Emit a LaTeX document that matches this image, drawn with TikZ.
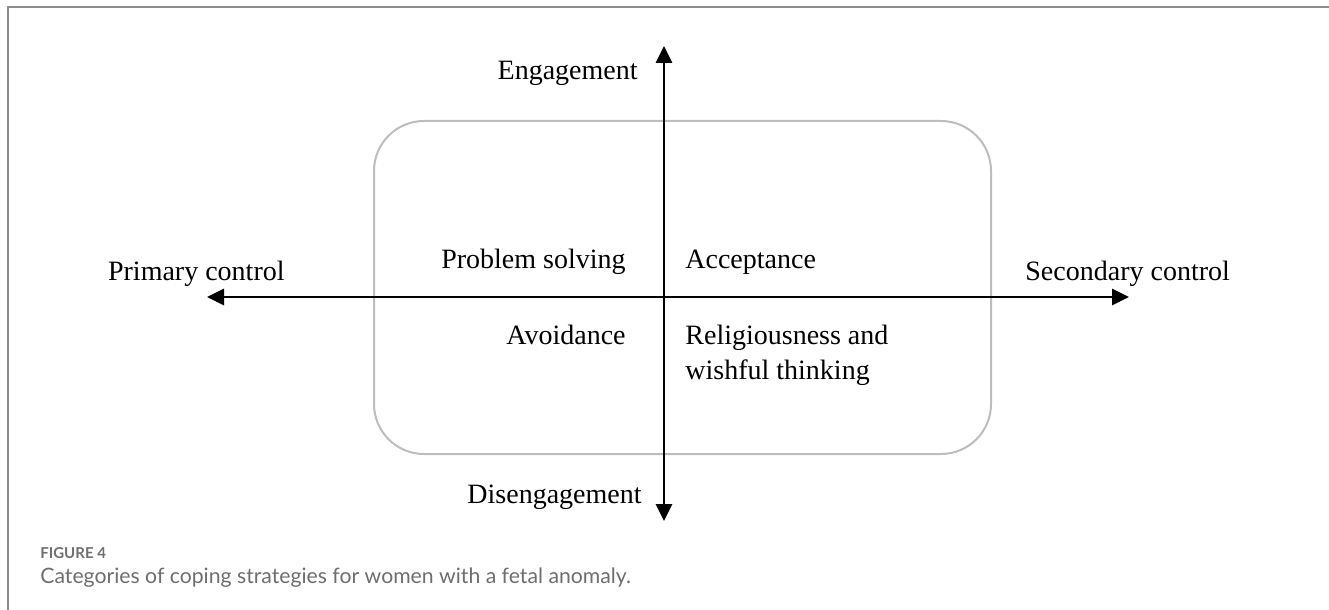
\documentclass[tikz,border=0pt]{standalone}
\usepackage{fontspec}
\setmainfont{Liberation Serif}
\newfontfamily\capfont{Lato}
\usetikzlibrary{arrows.meta}
\definecolor{framegray}{HTML}{8C8C8C}
\definecolor{boxgray}{HTML}{BDBDBD}
\definecolor{capgray}{HTML}{6E6E6E}
\begin{document}
\begin{tikzpicture}[x=0.5pt,y=-0.5pt,
  lbl/.style={font=\fontsize{14}{16}\selectfont, inner sep=0pt},
  axis/.style={line width=1.35pt, {Triangle[length=8.5pt,width=8pt]}-{Triangle[length=8.5pt,width=8pt]}},
  capstyle/.style={inner sep=0pt, text=capgray, anchor=base west}]
\useasboundingbox (0,0) rectangle (1329,610);
\draw[framegray, line width=1pt] (7.5,610) -- (7.5,7.5) -- (1329,7.5);
\node[draw=boxgray, line width=1pt, rounded corners=25pt, minimum width=308.5pt, minimum height=166.5pt, inner sep=0pt] (box) at (682.5,287.5) {};
\coordinate (top) at (664,46);
\coordinate (bot) at (664,521);
\coordinate (left) at (207,297);
\coordinate (right) at (1129,297);
\draw[axis] (bot) -- (top);
\draw[axis] (left) -- (right);
\node[lbl, anchor=base east] (eng) at (638,80) {Engagement};
\node[lbl, anchor=base east] (dis) at (642,503) {Disengagement};
\node[lbl, anchor=base east] (prim) at (285,280) {Primary control};
\node[lbl, anchor=base west] (sec) at (1025,280) {Secondary control};
\node[lbl, anchor=base east] (prob) at (626,269) {Problem solving};
\node[lbl, anchor=base west] (acc) at (685,269) {Acceptance};
\node[lbl, anchor=base east] (avo) at (626,344) {Avoidance};
\node[lbl, anchor=base west] (rel1) at (685,344) {Religiousness and};
\node[lbl, anchor=base west] (rel2) at (685,379) {wishful thinking};
\node[capstyle, font=\capfont\bfseries\fontsize{7.5}{9}\selectfont] (fig) at (40,558) {FIGURE 4};
\node[capstyle, font=\capfont\fontsize{10.6}{12}\selectfont] (cap) at (40,583) {Categories of coping strategies for women with a fetal anomaly.};
\end{tikzpicture}
\end{document}
